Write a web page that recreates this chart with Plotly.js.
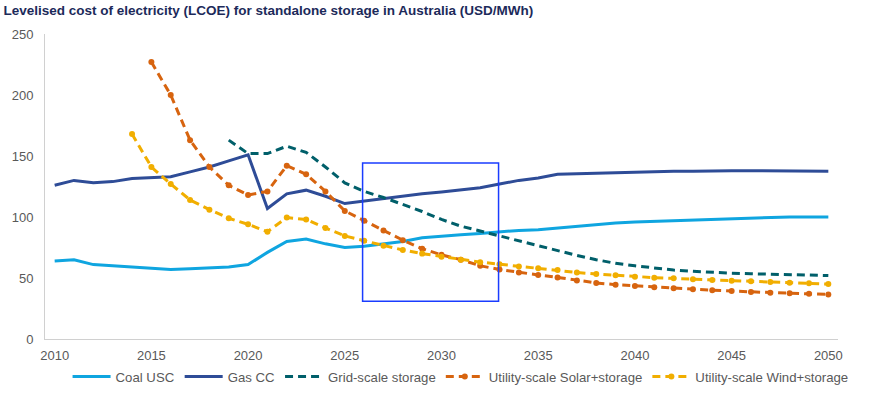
<!DOCTYPE html>
<html>
<head>
<meta charset="utf-8">
<script src="https://cdn.plot.ly/plotly-3.0.1.min.js"></script>
<style>html,body{margin:0;padding:0;background:#fff;}#chart{width:869px;height:393px;}</style>
</head>
<body>
<div id="chart"></div>
<script>
const years = [];
for (let y = 2010; y <= 2050; y++) years.push(y);

const coalUSC = [64, 65, 61, 60, 59, 57.5, 57, 57.5, 58, 59, 61, 71, 80, 82, 78, 75, 76, 78, 80, 83, 84.5, 85.5, 86.5, 88, 89, 89.5, 91, 92.5, 94, 95, 96, 96.5, 97.5, 98, 98.5, 99, 99.5, 100, 100, 100, 100];
const gasCC = [126, 130, 128, 129, 131.5, 132, 133, 137, 141, 146, 151, 107, 119, 122, 117, 111, 113, 115, 117.5, 119, 120.5, 122, 124, 127, 130, 132, 135, 135.5, 136, 136.5, 137, 137, 137.5, 137.5, 138, 138, 138, 138, 137.5, 137.5, 137.5];
const gridYears = years.slice(9);
const gridStorage = [163, 152, 152, 158, 153, 141, 128, 121, 116, 110.5, 104.5, 98, 92.5, 88.5, 84.5, 80, 76, 72.5, 68.5, 65, 62, 60, 58, 56.5, 55.5, 54.5, 54, 53.5, 53, 53, 52.5, 52];
const solarYears = years.slice(5);
const solarStorage = [227, 200, 163, 141, 126, 118, 121, 142, 135, 121, 105, 97, 89, 81, 74, 69, 65, 60, 57, 54.5, 52.5, 50.5, 48, 46, 44.5, 43.5, 42.5, 41.5, 40.7, 40, 39.3, 38.5, 38, 37.5, 37, 36.5];
const windYears = years.slice(4);
const windStorage = [168, 141, 127, 114, 106, 99, 94, 88, 99.5, 98, 91, 84.5, 80.5, 76.5, 73, 70, 67.5, 65, 63, 61.3, 59.5, 58, 56.5, 54.5, 53.3, 52.2, 51, 50.3, 49.7, 49, 48.4, 47.8, 47.3, 46.7, 46.2, 45.6, 45];

const names = ["Coal USC", "Gas CC", "Grid-scale storage", "Utility-scale Solar+storage", "Utility-scale Wind+storage"];
const colors = ["#0fa5e0", "#2e4c97", "#005f6a", "#d7640f", "#f1ae00"];
const xTicks = [2010, 2015, 2020, 2025, 2030, 2035, 2040, 2045, 2050];
const yTicks = [0, 50, 100, 150, 200, 250];
const highlightBox = {x0: 2025.92, x1: 2032.95, y0: 31, y1: 144.3};

const traces = [
  {x: years, y: coalUSC, name: names[0], mode: "lines", line: {color: colors[0], width: 3}},
  {x: years, y: gasCC, name: names[1], mode: "lines", line: {color: colors[1], width: 3}},
  {x: gridYears, y: gridStorage, name: names[2], mode: "lines", line: {color: colors[2], width: 3, dash: "8px,5px"}},
  {x: solarYears, y: solarStorage, name: names[3], mode: "lines+markers", line: {color: colors[3], width: 3, dash: "8px,5px"}, marker: {color: colors[3], size: 6}},
  {x: windYears, y: windStorage, name: names[4], mode: "lines+markers", line: {color: colors[4], width: 3, dash: "8px,5px"}, marker: {color: colors[4], size: 6}}
];

const layout = {
  width: 869, height: 393,
  margin: {l: 45, r: 31, t: 34, b: 54, autoexpand: false},
  paper_bgcolor: "#ffffff", plot_bgcolor: "#ffffff",
  font: {family: "Liberation Sans, Arial, sans-serif", color: "#595959", size: 13},
  title: {text: "<b>Levelised cost of electricity (LCOE) for standalone storage in Australia (USD/MWh)</b>",
          font: {size: 13.5, color: "#1c2a5a", family: "Liberation Sans, Arial, sans-serif"},
          xref: "container", x: 0.004, xanchor: "left", yref: "container", y: 0.974, yanchor: "middle"},
  xaxis: {range: [2009.5, 2050.5], tickvals: xTicks, ticktext: xTicks.map(String), showgrid: false, zeroline: false,
          showline: true, linecolor: "#d0d0d0", linewidth: 1, ticks: "", ticklabelstandoff: 4, fixedrange: true},
  yaxis: {range: [0, 250], tickvals: yTicks, ticktext: yTicks.map(String), showgrid: false, zeroline: false,
          showline: true, linecolor: "#d0d0d0", linewidth: 1, ticks: "", ticklabelstandoff: 8, fixedrange: true},
  showlegend: true,
  legend: {orientation: "h", xref: "container", x: 0.53, xanchor: "center", yref: "container", y: 0.041, yanchor: "middle",
           itemwidth: 38, font: {size: 13.2, color: "#595959"}, bgcolor: "rgba(0,0,0,0)"},
  shapes: [{type: "rect", xref: "x", yref: "y", x0: highlightBox.x0, x1: highlightBox.x1, y0: highlightBox.y0, y1: highlightBox.y1,
            line: {color: "#1a3cff", width: 1.5}, fillcolor: "rgba(0,0,0,0)"}]
};

Plotly.newPlot("chart", traces, layout, {displayModeBar: false, staticPlot: true});
</script>
</body>
</html>
